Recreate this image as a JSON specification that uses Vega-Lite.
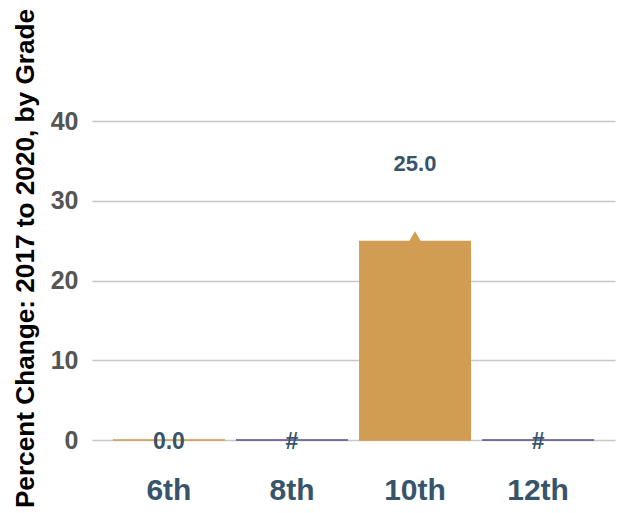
{
  "$schema": "https://vega.github.io/schema/vega-lite/v6.json",
  "autosize": {"type": "none"},
  "padding": {"left": 92, "top": 121, "right": 12, "bottom": 73},
  "width": 523,
  "height": 319,
  "background": "white",
  "config": {
    "view": {"stroke": null},
    "font": "Liberation Sans"
  },
  "data": {
    "values": [
      {"grade": "6th", "value": 0, "label": "0.0", "status": "reported"},
      {"grade": "8th", "value": null, "label": "#", "status": "not available"},
      {"grade": "10th", "value": 25, "label": "25.0", "status": "reported"},
      {"grade": "12th", "value": null, "label": "#", "status": "not available"}
    ]
  },
  "encoding": {
    "x": {
      "field": "grade",
      "type": "nominal",
      "sort": ["6th", "8th", "10th", "12th"],
      "scale": {"paddingInner": 0.09, "paddingOuter": 0.17},
      "axis": {
        "title": null,
        "domain": false,
        "ticks": false,
        "tickSize": 0,
        "labelAngle": 0,
        "labelFontSize": 30,
        "labelFontWeight": "bold",
        "labelColor": "#37546b",
        "labelPadding": 35
      }
    }
  },
  "layer": [
    {
      "mark": {"type": "bar", "strokeWidth": 1.5, "fillOpacity": 0},
      "encoding": {
        "y": {
          "datum": 0,
          "type": "quantitative",
          "scale": {"domain": [0, 40]},
          "axis": {
            "title": "Percent Change: 2017 to 2020, by Grade",
            "titleFontSize": 26.2,
            "titleFontWeight": "bold",
            "titleColor": "#000000",
            "titleAngle": -90,
            "titleX": -59,
            "titleY": 137,
            "titleAlign": "center",
            "titleBaseline": "alphabetic",
            "values": [0, 10, 20, 30, 40],
            "grid": true,
            "domain": false,
            "ticks": false,
            "tickSize": 0,
            "labelFontSize": 25,
            "labelFontWeight": "bold",
            "labelColor": "#555555",
            "labelPadding": 14,
            "gridColor": "#c8c8c8",
            "gridWidth": 1.5
          }
        },
        "stroke": {
          "field": "status",
          "type": "nominal",
          "scale": {"domain": ["reported", "not available"], "range": ["#d09d53", "#5b4c8a"]},
          "legend": null
        }
      }
    },
    {
      "transform": [{"filter": "datum.value > 0"}],
      "mark": {"type": "bar", "color": "#d09d53"},
      "encoding": {
        "y": {"field": "value", "type": "quantitative"}
      }
    },
    {
      "transform": [{"filter": "datum.value > 0"}],
      "mark": {"type": "point", "shape": "triangle-up", "filled": true, "size": 480, "color": "#d09d53", "opacity": 1},
      "encoding": {
        "y": {"field": "value", "type": "quantitative"}
      }
    },
    {
      "transform": [{"filter": "datum.value > 0"}],
      "mark": {"type": "text", "dy": -77, "baseline": "middle", "fontSize": 22, "fontWeight": "bold", "color": "#37546b"},
      "encoding": {
        "y": {"field": "value", "type": "quantitative"},
        "text": {"field": "label"}
      }
    },
    {
      "transform": [{"filter": "!(datum.value > 0)"}],
      "mark": {"type": "text", "dy": 2, "baseline": "middle", "fontSize": 23, "fontWeight": "bold", "color": "#37546b"},
      "encoding": {
        "y": {"datum": 0, "type": "quantitative"},
        "text": {"field": "label"}
      }
    }
  ]
}
